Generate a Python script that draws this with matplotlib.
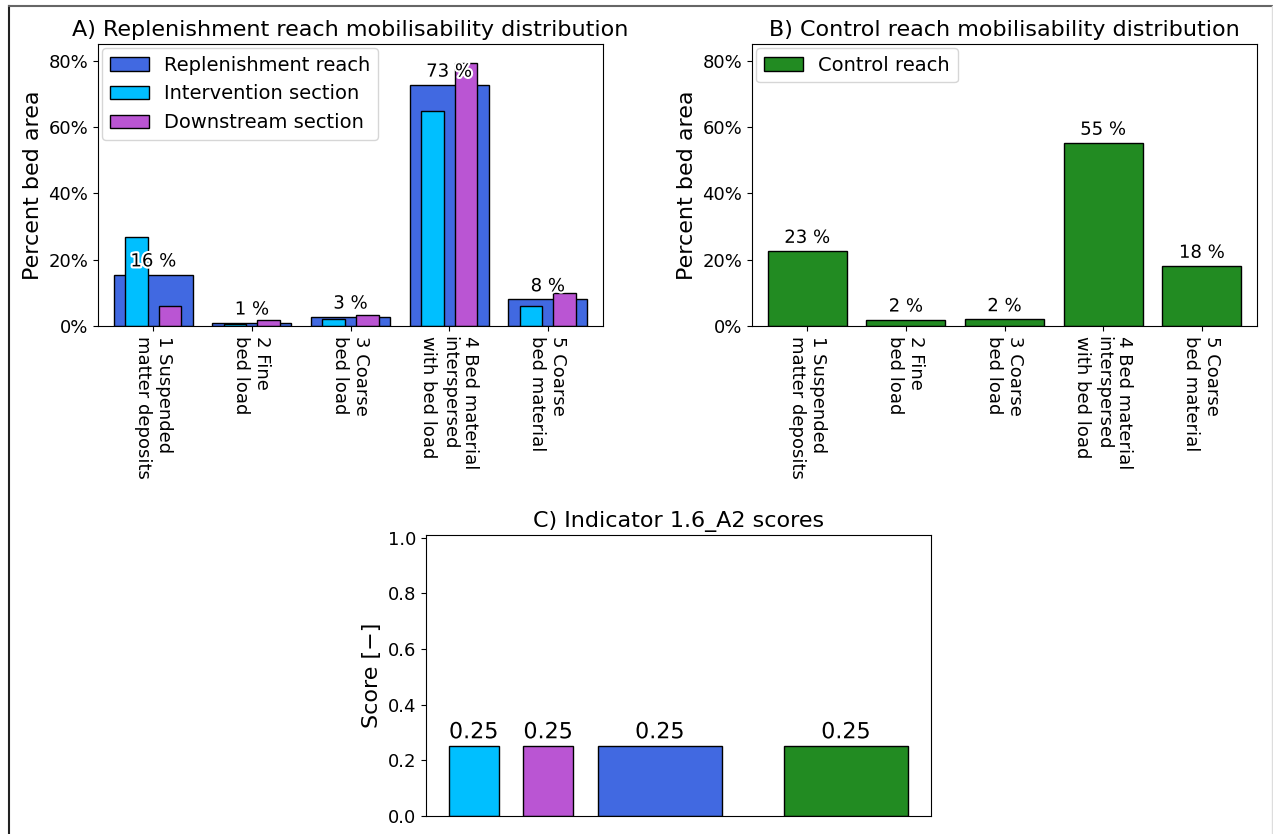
import numpy as np
import matplotlib
matplotlib.use('Agg')
import matplotlib.pyplot as plt
import matplotlib.patheffects as pe
from matplotlib.ticker import PercentFormatter
from matplotlib.lines import Line2D

categories = ['1 Suspended\nmatter deposits', '2 Fine\nbed load', '3 Coarse\nbed load',
              '4 Bed material\ninterspersed\nwith bed load', '5 Coarse\nbed material']
replenishment = [0.155, 0.010, 0.028, 0.727, 0.080]
intervention = [0.268, 0.005, 0.021, 0.649, 0.059]
downstream = [0.059, 0.017, 0.033, 0.792, 0.098]
control = [0.226, 0.019, 0.020, 0.552, 0.181]
replenishment_labels = ['16 %', '1 %', '3 %', '73 %', '8 %']
control_labels = ['23 %', '2 %', '2 %', '55 %', '18 %']

score_names = ['Intervention section', 'Downstream section', 'Replenishment reach', 'Control reach']
scores = [0.25, 0.25, 0.25, 0.25]

c_rep, c_int, c_down, c_ctrl = 'royalblue', 'deepskyblue', 'mediumorchid', 'forestgreen'

W, H = 1273, 834
fig = plt.figure(figsize=(W / 100, H / 100), dpi=100)


def px_axes(left, top, right, bottom):
    return fig.add_axes([left / W, 1 - bottom / H, (right - left) / W, (bottom - top) / H])


def label_bars(ax, xs, ys, labels, size):
    for x, y, t in zip(xs, ys, labels):
        ax.annotate(t, (x, y), xytext=(0, 3), textcoords='offset points',
                    ha='center', va='bottom', fontsize=size,
                    path_effects=[pe.withStroke(linewidth=3, foreground='white')])


def style_dist(ax, title):
    ax.set_xticks(range(len(categories)))
    ax.set_xticklabels(categories, rotation=270, fontsize=13, ha='center', ma='left')
    ax.set_xlim(-0.56, 4.56)
    ax.set_ylim(0, 0.85)
    ax.yaxis.set_major_formatter(PercentFormatter(1, decimals=0))
    ax.tick_params(axis='y', labelsize=13)
    ax.set_ylabel('Percent bed area', fontsize=16)
    ax.set_title(title, fontsize=16)


x = np.arange(len(categories))
off, nw = 0.17, 0.23

# A) replenishment reach
ax1 = px_axes(98, 44, 603, 326)
ax1.bar(x, replenishment, 0.8, color=c_rep, edgecolor='black', label='Replenishment reach')
ax1.bar(x - off, intervention, nw, color=c_int, edgecolor='black', label='Intervention section')
ax1.bar(x + off, downstream, nw, color=c_down, edgecolor='black', label='Downstream section')
label_bars(ax1, x, replenishment, replenishment_labels, 13)
style_dist(ax1, 'A) Replenishment reach mobilisability distribution')
ax1.legend(loc='upper left', fontsize=14, borderaxespad=0.2)

# B) control reach
ax2 = px_axes(752, 44, 1257, 326)
ax2.bar(x, control, 0.8, color=c_ctrl, edgecolor='black', label='Control reach')
label_bars(ax2, x, control, control_labels, 13)
style_dist(ax2, 'B) Control reach mobilisability distribution')
ax2.legend(loc='upper left', fontsize=14, borderaxespad=0.2)

# C) scores
ax3 = px_axes(426, 535, 931, 816)
pos = [-1.5, -0.9, 0.0, 1.5]
widths = [0.4, 0.4, 1.0, 1.0]
ax3.bar(pos, scores, widths, color=[c_int, c_down, c_rep, c_ctrl], edgecolor='black')
label_bars(ax3, pos, scores, ['%.2f' % s for s in scores], 16)
ax3.set_ylim(0, 1.01)
ax3.set_xticks([])
ax3.tick_params(axis='y', labelsize=13)
ax3.set_ylabel('Score [\u2212]', fontsize=16)
ax3.set_title('C) Indicator 1.6_A2 scores', fontsize=16)

# frame around the figure
fig.add_artist(Line2D([9 / W, 9 / W], [0, 1 - 6 / H], transform=fig.transFigure, color='#222222', lw=1.5))
fig.add_artist(Line2D([9 / W, 1272 / W], [1 - 6 / H, 1 - 6 / H], transform=fig.transFigure, color='#666666', lw=1.5))
fig.add_artist(Line2D([1272 / W, 1272 / W], [0, 1 - 6 / H], transform=fig.transFigure, color='#dddddd', lw=1))

fig.savefig('out.png', dpi=100)
